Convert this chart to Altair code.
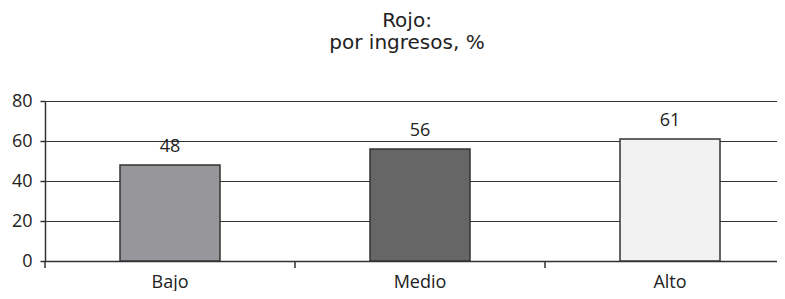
import altair as alt
import pandas as pd

categories = ["Bajo", "Medio", "Alto"]
values = [48, 56, 61]
bar_colors = ["#97979b", "#666666", "#f2f2f2"]
y_ticks = [0, 20, 40, 60, 80]

df = pd.DataFrame({"cat": categories, "val": values, "color": bar_colors})

FONT = "Open Sans"
TITLE_FONT = "DejaVu Sans"
INK = "#333333"

xscale = alt.Scale(range=[0, 750], paddingInner=0.6, paddingOuter=0.3)
x_axis = alt.Axis(title=None, labelAngle=0, ticks=False, domain=True,
                  domainColor=INK, domainWidth=1.5, labelFontSize=18,
                  labelFont=FONT, labelColor="#222", labelPadding=12, grid=False)
y_axis = alt.Axis(title=None, values=y_ticks, tickCount=5, labelOverlap=False,
                  grid=True, gridColor=INK, gridWidth=1.2,
                  domainColor=INK, domainWidth=1.5, tickColor=INK, tickSize=5, tickWidth=1.5,
                  labelFontSize=18, labelFont=FONT, labelColor="#222", labelPadding=8)
yscale = alt.Scale(domain=[0, 80], nice=False)

base = alt.Chart(df)

bars = base.mark_bar(stroke=INK, strokeWidth=1.5).encode(
    x=alt.X("cat:N", sort=categories, scale=xscale, axis=x_axis),
    y=alt.Y("val:Q", scale=yscale, axis=y_axis),
    color=alt.Color("color:N", scale=None),
)

labels = base.mark_text(dy=-13, baseline="alphabetic", fontSize=18, font=FONT, color="#222").encode(
    x=alt.X("cat:N", sort=categories, scale=xscale, axis=x_axis),
    y=alt.Y("val:Q", scale=yscale, axis=y_axis),
    text="val:Q",
)

ticks = base.mark_rule(color=INK, strokeWidth=1.5, xOffset=75).encode(
    x=alt.X("cat:N", sort=categories, bandPosition=1),
    y=alt.value(160),
    y2=alt.value(167),
)

first_tick = base.transform_filter(alt.datum.cat == categories[0]).mark_rule(
    color=INK, strokeWidth=1.5, xOffset=-75).encode(
    x=alt.X("cat:N", sort=categories, bandPosition=0),
    y=alt.value(160),
    y2=alt.value(167),
)

chart = alt.layer(bars, ticks, first_tick, labels).properties(
    width=732,
    height=160,
    autosize=alt.AutoSizeParams(type="none"),
    padding={"left": 37, "top": 93, "right": 0, "bottom": 30},
    title=alt.TitleParams(["Rojo:", "por ingresos, %"], fontSize=20, font=TITLE_FONT,
                          fontWeight="normal", lineHeight=22, color="#222",
                          anchor="middle", dx=-4, offset=39),
).configure_view(stroke=None)

chart.save("out.html", embed_options={"renderer": "svg", "actions": False})
